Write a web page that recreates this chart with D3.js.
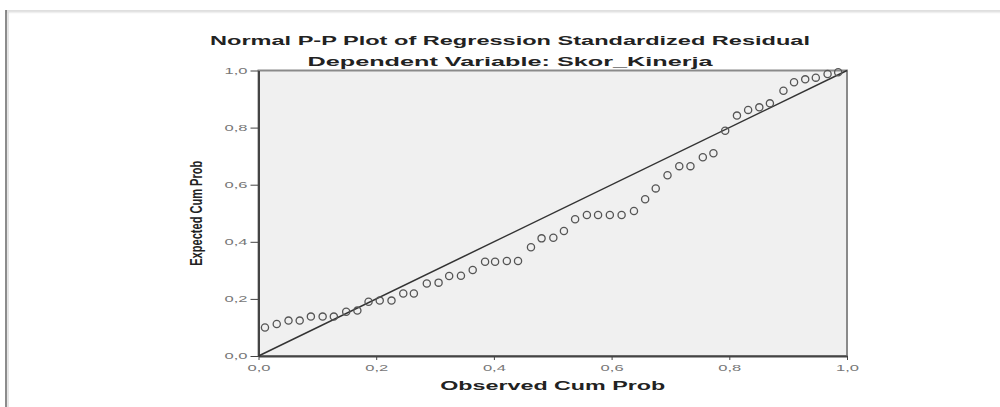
<!DOCTYPE html>
<html>
<head>
<meta charset="utf-8">
<script src="https://cdn.jsdelivr.net/npm/d3@7"></script>
<style>
    html, body { margin: 0; padding: 0; background: #fff; }
    svg { display: block; }
    .axis text { font-family: "Liberation Sans", Arial, sans-serif; font-size: 9px; fill: #777; }
    .axis path, .axis line { stroke: #444; }
    .label { font-family: "Liberation Sans", Arial, sans-serif; font-weight: bold; fill: #222; }
</style>
</head>
<body>
<div id="chart"></div>
<script>

/**
 * constant variables
 */
const WIDTH = 1000;
const HEIGHT = 407;
const PLOT = {
    left: 258.5,
    right: 847,
    top: 70.5,
    bottom: 356
};

/**
 * data
 */
const observedCumProb = [
    0.011, 0.031, 0.051, 0.070, 0.089, 0.109, 0.128, 0.149, 0.168, 0.187,
    0.206, 0.226, 0.246, 0.264, 0.286, 0.306, 0.324, 0.344, 0.364, 0.385,
    0.402, 0.422, 0.441, 0.463, 0.481, 0.501, 0.519, 0.538, 0.558, 0.577,
    0.597, 0.617, 0.638, 0.657, 0.675, 0.695, 0.715, 0.734, 0.755, 0.773,
    0.793, 0.813, 0.832, 0.851, 0.869, 0.892, 0.910, 0.929, 0.947, 0.967,
    0.985
];
const expectedCumProb = [
    0.100, 0.112, 0.124, 0.124, 0.138, 0.138, 0.138, 0.155, 0.159, 0.190,
    0.194, 0.194, 0.219, 0.219, 0.254, 0.257, 0.280, 0.281, 0.301, 0.330,
    0.330, 0.333, 0.333, 0.381, 0.412, 0.414, 0.438, 0.479, 0.494, 0.494,
    0.494, 0.494, 0.508, 0.549, 0.587, 0.633, 0.665, 0.665, 0.696, 0.710,
    0.789, 0.842, 0.862, 0.871, 0.885, 0.929, 0.959, 0.969, 0.975, 0.988,
    0.994
];
const tickValues = [0, 0.2, 0.4, 0.6, 0.8, 1.0];
const referenceLine = [0, 1];

const svg = d3.select("#chart").append("svg")
                               .attr("width", WIDTH)
                               .attr("height", HEIGHT);

// document frame around the picture
svg.append("line")
   .attr("x1", 6).attr("x2", WIDTH)
   .attr("y1", 11).attr("y2", 11)
   .attr("stroke", "#d4d4d4")
   .attr("stroke-width", 1.5);
svg.append("line")
   .attr("x1", 6).attr("x2", WIDTH)
   .attr("y1", 12.5).attr("y2", 12.5)
   .attr("stroke", "#efefef")
   .attr("stroke-width", 1.5);
svg.append("line")
   .attr("x1", 6).attr("x2", 6)
   .attr("y1", 10).attr("y2", HEIGHT)
   .attr("stroke", "#666")
   .attr("stroke-width", 1.5);
svg.append("line")
   .attr("x1", 8).attr("x2", 8)
   .attr("y1", 12).attr("y2", HEIGHT)
   .attr("stroke", "#ddd")
   .attr("stroke-width", 1.5);

const x = d3.scaleLinear().domain([0, 1]).range([PLOT.left, PLOT.right]);
const y = d3.scaleLinear().domain([0, 1]).range([PLOT.bottom, PLOT.top]);
const fmt = d => d3.format(".1f")(d).replace(".", ",");

// plot area
svg.append("rect")
   .attr("x", x(0)).attr("y", y(1))
   .attr("width", x(1) - x(0))
   .attr("height", y(0) - y(1))
   .attr("fill", "#f0f0f0")
   .attr("stroke", "#8a8a8a")
   .attr("stroke-width", 2);

const xAxis = svg.append("g")
                 .attr("class", "axis x-axis")
                 .attr("transform", `translate(0, ${PLOT.bottom})`)
                 .call(d3.axisBottom(x).tickValues(tickValues).tickFormat(fmt)
                         .tickSize(4).tickPadding(5).tickSizeOuter(0));

const yAxis = svg.append("g")
                 .attr("class", "axis y-axis")
                 .attr("transform", `translate(${PLOT.left}, 0)`)
                 .call(d3.axisLeft(y).tickValues(tickValues).tickFormat(fmt)
                         .tickSize(8).tickPadding(3).tickSizeOuter(0));

svg.selectAll(".axis .domain").attr("stroke-width", 2);
svg.selectAll(".axis text")
   .attr("textLength", 23)
   .attr("lengthAdjust", "spacingAndGlyphs");

// reference diagonal
const line = d3.line().x(d => x(d)).y(d => y(d));
svg.append("path")
   .datum(referenceLine)
   .attr("d", line)
   .attr("fill", "none")
   .attr("stroke", "#333")
   .attr("stroke-width", 1.5);

// observed points
svg.append("g")
   .selectAll("circle")
   .data(observedCumProb)
   .enter()
   .append("circle")
   .attr("cx", d => x(d))
   .attr("cy", (d, i) => y(expectedCumProb[i]))
   .attr("r", 3.6)
   .attr("fill", "none")
   .attr("stroke", "#555")
   .attr("stroke-width", 1.3);

// titles
svg.append("text")
   .attr("class", "label")
   .attr("x", 510).attr("y", 45)
   .attr("text-anchor", "middle")
   .attr("font-size", "13px")
   .attr("textLength", 600)
   .attr("lengthAdjust", "spacingAndGlyphs")
   .text("Normal P-P Plot of Regression Standardized Residual");

svg.append("text")
   .attr("class", "label")
   .attr("x", 510).attr("y", 66)
   .attr("text-anchor", "middle")
   .attr("font-size", "13px")
   .attr("textLength", 405)
   .attr("lengthAdjust", "spacingAndGlyphs")
   .text("Dependent Variable: Skor_Kinerja");

svg.append("text")
   .attr("class", "label")
   .attr("x", (PLOT.left + PLOT.right) / 2).attr("y", 390)
   .attr("text-anchor", "middle")
   .attr("font-size", "13px")
   .attr("textLength", 225)
   .attr("lengthAdjust", "spacingAndGlyphs")
   .text("Observed Cum Prob");

svg.append("text")
   .attr("class", "label")
   .attr("transform", `translate(202, ${(PLOT.top + PLOT.bottom) / 2}) rotate(-90) scale(1, 1.5)`)
   .attr("text-anchor", "middle")
   .attr("font-size", "11px")
   .attr("textLength", 105)
   .attr("lengthAdjust", "spacingAndGlyphs")
   .text("Expected Cum Prob");

</script>
</body>
</html>
